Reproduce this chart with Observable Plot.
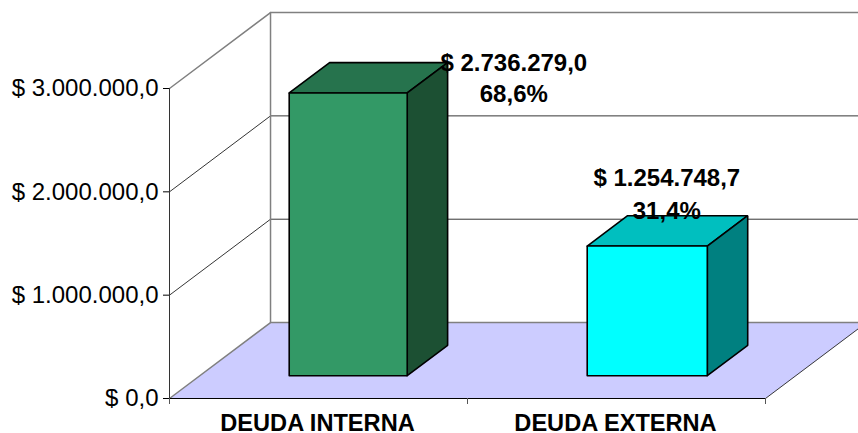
<!DOCTYPE html>
<html><head><meta charset="utf-8">
<script src="https://cdn.jsdelivr.net/npm/d3@7"></script>
<script src="https://cdn.jsdelivr.net/npm/@observablehq/plot@0.6"></script>
<style>html,body{margin:0;padding:0;background:#fff}svg{display:block}</style>
</head><body><div id="chart"></div>
<script>
const categories = ["DEUDA INTERNA", "DEUDA EXTERNA"];
const values = [2736279.0, 1254748.7];
const valueLabels = ["$ 2.736.279,0", "$ 1.254.748,7"];
const shareLabels = ["68,6%", "31,4%"];
const yTicks = [0, 1000000, 2000000, 3000000];
const yTickLabels = ["$ 0,0", "$ 1.000.000,0", "$ 2.000.000,0", "$ 3.000.000,0"];
const frontColors = ["#339966", "#00ffff"];
const topColors = ["#26734d", "#00bfbf"];
const sideColors = ["#1c5033", "#008080"];

// oblique projection, expressed in data units: depth d runs 0 (front) to 1 (back wall)
const xShift = 0.339, yShift = 735000;
const P = (x, v, d) => ({x: x + d * xShift, y: v + d * yShift});
const line = (pts, o) => Plot.line(pts, {x: "x", y: "y", ...o});
const face = (pts, fill, o = {}) => line([...pts, pts[0]], {fill, stroke: "#000", strokeWidth: 1.6, strokeLinejoin: "miter", ...o});

const gray = {stroke: "#808080", strokeWidth: 1.5};
const marks = [];
// floor
marks.push(face([P(0,0,0), P(2,0,0), P(2,0,1), P(0,0,1)], "#ccccff", {stroke: "none"}));
// gridlines
for (const v of yTicks.slice(1, 3)) marks.push(line([P(0,v,0), P(0,v,1), P(2.2,v,1)], {stroke: "#000", strokeWidth: 0.8}));
// walls
marks.push(line([P(0,3000000,0), P(0,3000000,1), P(2.2,3000000,1)], gray));
marks.push(line([P(0,0,1), P(0,3000000,1)], gray));
marks.push(line([P(0,0,0), P(0,0,1), P(2,0,1)], gray));
marks.push(line([P(2,0,0), P(2,0,1)], {stroke: "#222", strokeWidth: 0.9}));
marks.push(line([P(0,0,0), P(2,0,0)], {stroke: "#000", strokeWidth: 1}));
marks.push(line([P(0,0,0), P(0,3000000,0)], {stroke: "#333", strokeWidth: 1}));
// bars
const d0 = 0.3, d1 = 0.7;
const spans = [[0.3, 0.696], [1.3, 1.703]];
values.forEach((v, i) => {
  const [a, b] = spans[i];
  marks.push(face([P(a,v,d0), P(b,v,d0), P(b,v,d1), P(a,v,d1)], topColors[i]));
  marks.push(face([P(b,0,d0), P(b,0,d1), P(b,v,d1), P(b,v,d0)], sideColors[i]));
  marks.push(face([P(a,0,d0), P(b,0,d0), P(b,v,d0), P(a,v,d0)], frontColors[i]));
});
// axes
marks.push(Plot.axisY({ticks: yTicks, tickFormat: v => yTickLabels[yTicks.indexOf(v)], tickSize: 6, tickPadding: 5, fontSize: 24, label: null}));
marks.push(Plot.axisX({ticks: [0, 1, 2], tickFormat: () => "", tickSize: 6, stroke: "#555", label: null}));
marks.push(Plot.axisX({ticks: [0.5, 1.5], tickFormat: v => categories[v - 0.5], tickSize: 0, tickPadding: 16, dx: -1, fontSize: 23.6, fontWeight: "bold", label: null}));
// value labels
const labelData = values.map((v, i) => ({...P(i + 0.5, v, d0), v: valueLabels[i], s: shareLabels[i], i}));
marks.push(Plot.text([labelData[0]], {x: "x", y: "y", text: "v", dx: 165, dy: -30, fontSize: 24, fontWeight: "bold"}));
marks.push(Plot.text([labelData[0]], {x: "x", y: "y", text: "s", dx: 165, dy: 1, fontSize: 24, fontWeight: "bold"}));
marks.push(Plot.text([labelData[1]], {x: "x", y: "y", text: "v", dx: 20, dy: -68, fontSize: 24, fontWeight: "bold"}));
marks.push(Plot.text([labelData[1]], {x: "x", y: "y", text: "s", dx: 20, dy: -35, fontSize: 24, fontWeight: "bold"}));

const chart = Plot.plot({
  width: 858, height: 433,
  marginTop: 88, marginBottom: 35, marginLeft: 169, marginRight: 93,
  x: {domain: [0, 2]},
  y: {domain: [0, 3000000]},
  style: {fontFamily: "Liberation Sans, Arial, sans-serif", background: "#fff", color: "#000"},
  marks
});
document.getElementById("chart").appendChild(chart);
</script></body></html>
